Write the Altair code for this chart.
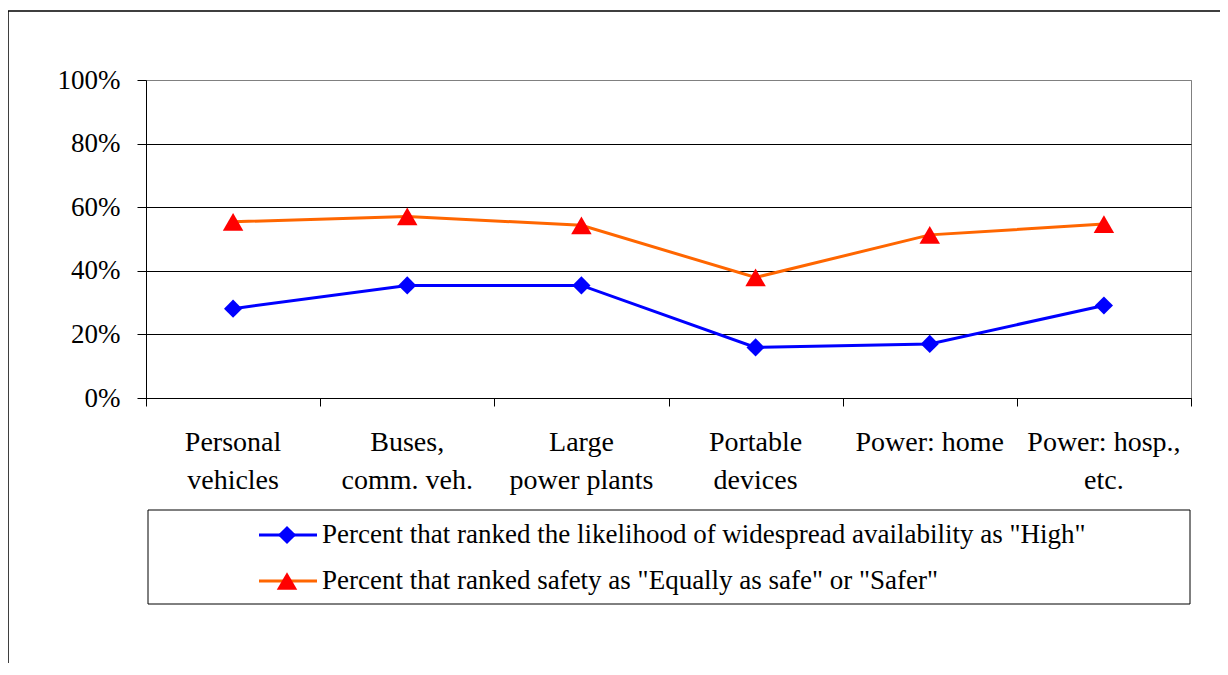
import altair as alt
import pandas as pd

# ---- data ----
categories = ["Personal\nvehicles", "Buses,\ncomm. veh.", "Large\npower plants",
              "Portable\ndevices", "Power: home", "Power: hosp.,\netc."]
series_names = ['Percent that ranked the likelihood of widespread availability as "High"',
                'Percent that ranked safety as "Equally as safe" or "Safer"']
availability_high = [0.281, 0.354, 0.354, 0.159, 0.170, 0.291]
safety_equal_or_safer = [0.554, 0.571, 0.543, 0.379, 0.513, 0.547]
y_ticks = [0, 0.2, 0.4, 0.6, 0.8, 1.0]
x_boundaries = list(range(len(categories) + 1))

line_colors = ["#0000FF", "#FF6600"]
marker_colors = ["#0000FF", "#FF0000"]
marker_shapes = ["diamond", "triangle-up"]
marker_sizes = [330, 420]

rows = []
for s, vals in zip(series_names, [availability_high, safety_equal_or_safer]):
    for i, (c, v) in enumerate(zip(categories, vals)):
        rows.append({"series": s, "category": c, "pos": i + 0.5, "value": v})
df = pd.DataFrame(rows)
cat_df = pd.DataFrame({"label": categories, "pos": [i + 0.5 for i in range(len(categories))]})
leg_df = pd.DataFrame({"series": series_names})

W, H = 1045, 318
FONT = "Liberation Serif, Times New Roman, serif"

xscale = alt.Scale(domain=[0, len(categories)], nice=False, zero=False)
yscale = alt.Scale(domain=[0, 1], nice=False)
xaxis = alt.Axis(values=x_boundaries, labels=False, title=None, grid=False, ticks=True,
                 tickSize=8, tickColor="black", domainColor="black")
yaxis = alt.Axis(values=y_ticks, format=".0%", title=None, grid=True,
                 gridColor=alt.condition("datum.value == 1", alt.value("#808080"), alt.value("black")),
                 tickSize=9, tickColor="black", domainColor="black", labelPadding=17,
                 labelFont=FONT, labelFontSize=27, labelColor="black")

stroke_enc = alt.Stroke("series:N", scale=alt.Scale(domain=series_names, range=line_colors), legend=None)
fill_enc = alt.Fill("series:N", scale=alt.Scale(domain=series_names, range=marker_colors), legend=None)
shape_enc = alt.Shape("series:N", scale=alt.Scale(domain=series_names, range=marker_shapes), legend=None)
size_enc = alt.Size("series:N", scale=alt.Scale(domain=series_names, range=marker_sizes), legend=None)

dummy = alt.Data(values=[{"k": 1}])

border = alt.Chart(dummy).mark_rect(fillOpacity=0, stroke="black", strokeWidth=1.5).encode(
    x=alt.value(-138), x2=alt.value(1200), y=alt.value(-69), y2=alt.value(700))

lines = alt.Chart(df).mark_line(strokeWidth=3).encode(
    x=alt.X("pos:Q", scale=xscale, axis=xaxis),
    y=alt.Y("value:Q", scale=yscale, axis=yaxis),
    stroke=stroke_enc)

points = alt.Chart(df).mark_point(filled=True, opacity=1).encode(
    x=alt.X("pos:Q", scale=xscale, axis=xaxis),
    y=alt.Y("value:Q", scale=yscale, axis=yaxis),
    fill=fill_enc, shape=shape_enc, size=size_enc)

labels = alt.Chart(cat_df).mark_text(font=FONT, fontSize=28, lineBreak="\n", baseline="top",
                                     align="center", lineHeight=38, color="black").encode(
    x=alt.X("pos:Q", scale=xscale, axis=xaxis),
    y=alt.value(349),
    text="label:N")

main = alt.layer(border, lines, points, labels)

leg_y = alt.Y("series:N", scale=alt.Scale(type="point", domain=series_names, range=[455, 501], padding=0), axis=None)

box = alt.Chart(dummy).mark_rect(fillOpacity=0, stroke="black", strokeWidth=1).encode(
    x=alt.value(2), x2=alt.value(1044), y=alt.value(430), y2=alt.value(524))
leg_rule = alt.Chart(leg_df).mark_rule(strokeWidth=3).encode(
    x=alt.value(113), x2=alt.value(171), y=leg_y, stroke=stroke_enc)
leg_point = alt.Chart(leg_df).mark_point(filled=True, opacity=1).encode(
    x=alt.value(141), y=leg_y, fill=fill_enc, shape=shape_enc, size=size_enc)
leg_text = alt.Chart(leg_df).mark_text(font=FONT, fontSize=27, align="left", baseline="middle",
                                       color="black").encode(
    x=alt.value(176), y=leg_y, text="series:N")

legend = alt.layer(box, leg_rule, leg_point, leg_text)

chart = alt.layer(main, legend).resolve_scale(y="independent").properties(
    width=W, height=H,
    autosize=alt.AutoSizeParams(type="none"),
    padding={"left": 138, "top": 72, "right": 29, "bottom": 265},
).configure_view(stroke="#808080", strokeWidth=1)

chart.save("out.html", embed_options={"renderer": "svg", "actions": False})
